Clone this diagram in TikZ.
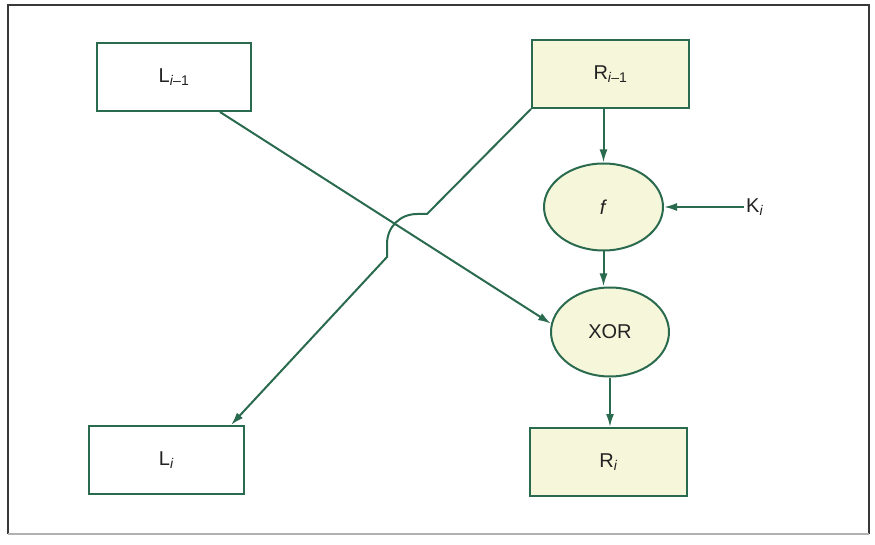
\documentclass[tikz,border=0pt]{standalone}
\usepackage{fontspec}
\setmainfont{Liberation Sans}
\usetikzlibrary{shapes.geometric,arrows.meta,calc}
\definecolor{edgegreen}{HTML}{2A6A4E}
\definecolor{paleyellow}{HTML}{F6F7DA}
\definecolor{inkgray}{HTML}{222222}
\tikzset{
  blockL/.style={draw=edgegreen, line width=2pt, fill=white, minimum width=155pt, minimum height=68pt, inner sep=0pt, font=\fontsize{20}{24}\selectfont, text=inkgray},
  blockR/.style={blockL, fill=paleyellow},
  oval/.style={ellipse, draw=edgegreen, line width=2pt, fill=paleyellow, inner sep=0pt, font=\fontsize{20}{24}\selectfont, text=inkgray},
  wire/.style={draw=edgegreen, line width=2pt},
  arrowwire/.style={wire, -{Latex[length=13pt,width=8pt]}},
}
\newcommand{\sbi}{\textsubscript{\textit{i}}}
\newcommand{\sbim}{\textsubscript{\textit{i}–1}}
\begin{document}
\begin{tikzpicture}[x=1pt,y=-1pt]
\useasboundingbox (0,0) rectangle (875,545);
% frame
\draw[inkgray!90, line width=1.3pt] (8,534) -- (8,5) -- (869,5) -- (869,534);
\draw[gray!60, line width=1.3pt] (8,534) -- (869,534);
% nodes
\node[blockL, minimum width=154pt] (Lim1) at (174,77) {L\sbim};
\node[blockR, minimum width=157pt] (Rim1) at (610.5,74) {R\sbim};
\node[blockL] (Li) at (166.5,460) {L\sbi};
\node[blockR, minimum width=157pt] (Ri) at (608.5,462) {R\sbi};
\node[oval, minimum width=119pt, minimum height=87pt] (f) at (603.5,207) {\textit{f}};
\node[oval, minimum width=118pt, minimum height=89pt] (xor) at (610,332) {XOR};
\node[font=\fontsize{20}{24}\selectfont, text=inkgray, inner sep=2pt, anchor=west] (K) at (744,207) {K\sbi};
% connectors
\draw[arrowwire] (f.north |- Rim1.south) -- (f.north);
\draw[arrowwire] (f.south) -- (f.south |- xor.north);
\draw[arrowwire] (xor.south) -- (xor.south |- Ri.north);
\draw[arrowwire] (K.west) -- (f.east |- K.west);
\draw[arrowwire] ([xshift=124pt]Lim1.south west) -- (xor.172);
\coordinate (h1) at (427,214);
\coordinate (h2) at (417,214);
\coordinate (h3) at (387,244);
\coordinate (h4) at (387,257);
\draw[arrowwire] (Rim1.south west) -- (h1) -- (h2) .. controls (400,214) and (387,227) .. (h3) -- (h4) -- ([xshift=-14pt]Li.north east);
\end{tikzpicture}
\end{document}
